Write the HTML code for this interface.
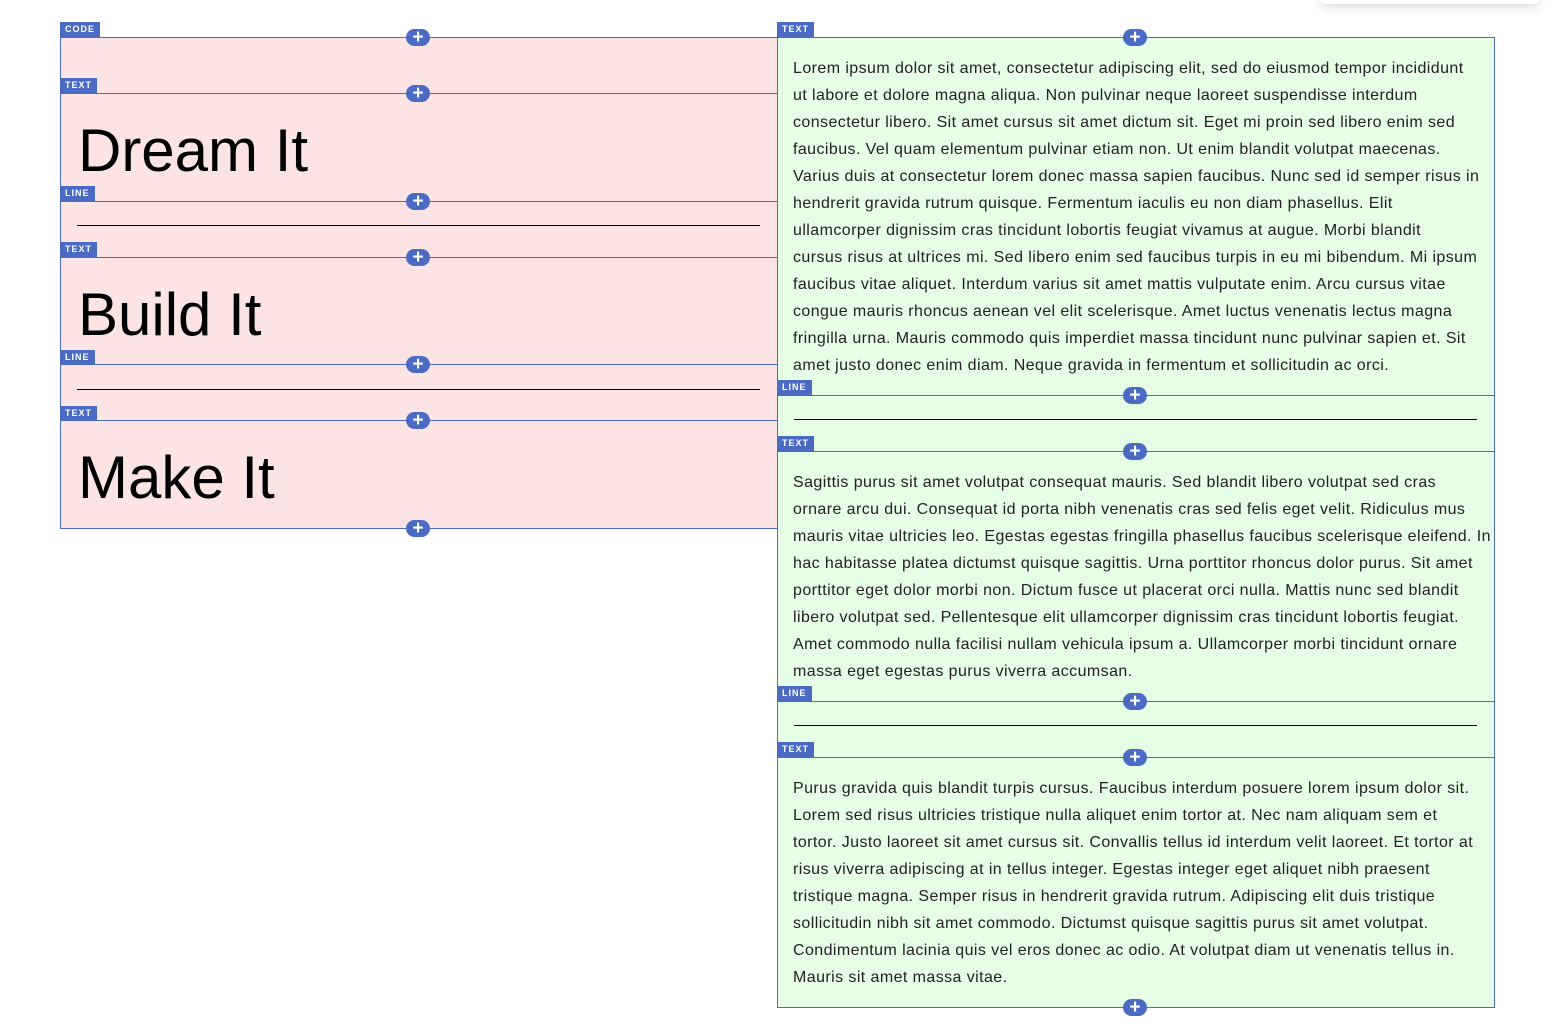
<!DOCTYPE html>
<html><head><meta charset="utf-8"><style>
*{margin:0;padding:0;box-sizing:border-box}
body{width:1552px;height:1031px;background:#fff;position:relative;overflow:hidden;font-family:"Liberation Sans",sans-serif}
.a{position:absolute}
.pink{background:#fce4e4}
.green{background:#e6fde6}
.box{position:absolute;border:1px solid #4a6ac4}
.hl{position:absolute;height:1px;background:#4a6ac4}
.tag{position:absolute;height:15px;background:#4a6ac4;color:#fff;font-size:9px;font-weight:bold;letter-spacing:1px;line-height:15px;padding:0 5px}
.plus{position:absolute;width:24px;height:17px;border-radius:9px;background:#4a6ac4;color:#fff;font-size:19px;font-weight:bold;line-height:17px;text-align:center}
.rule{position:absolute;height:1px;background:#000}
.h{position:absolute;left:78px;font-size:60px;line-height:60px;color:#000;white-space:nowrap}
.t{position:absolute;left:793px;font-size:16px;line-height:27px;color:#222;white-space:nowrap;letter-spacing:0.42px;margin-top:1px}
</style></head><body>
<div class="a" style="left:1320px;top:-10px;width:220px;height:14px;box-shadow:0 4px 10px rgba(0,0,0,0.12);background:#fff;border-radius:6px"></div>

<div class="box pink" style="left:60px;top:37px;width:718px;height:492px"></div>
<div class="box green" style="left:777px;top:37px;width:718px;height:971px"></div>

<div class="hl" style="left:60px;top:93px;width:717px"></div>
<div class="hl" style="left:60px;top:201px;width:717px"></div>
<div class="hl" style="left:60px;top:257px;width:717px"></div>
<div class="hl" style="left:60px;top:364px;width:717px"></div>
<div class="hl" style="left:60px;top:420px;width:717px"></div>
<div class="hl" style="left:777px;top:395px;width:717px"></div>
<div class="hl" style="left:777px;top:451px;width:717px"></div>
<div class="hl" style="left:777px;top:701px;width:717px"></div>
<div class="hl" style="left:777px;top:757px;width:717px"></div>

<div class="rule" style="left:77px;top:225px;width:683px"></div>
<div class="rule" style="left:77px;top:389px;width:683px"></div>
<div class="rule" style="left:794px;top:419px;width:683px"></div>
<div class="rule" style="left:794px;top:725px;width:683px"></div>

<div class="tag" style="left:60px;top:22px">CODE</div>
<div class="tag" style="left:60px;top:78px">TEXT</div>
<div class="tag" style="left:60px;top:186px">LINE</div>
<div class="tag" style="left:60px;top:242px">TEXT</div>
<div class="tag" style="left:60px;top:350px">LINE</div>
<div class="tag" style="left:60px;top:406px">TEXT</div>
<div class="tag" style="left:777px;top:22px">TEXT</div>
<div class="tag" style="left:777px;top:380px">LINE</div>
<div class="tag" style="left:777px;top:436px">TEXT</div>
<div class="tag" style="left:777px;top:686px">LINE</div>
<div class="tag" style="left:777px;top:742px">TEXT</div>

<div class="plus" style="left:406px;top:29px">+</div>
<div class="plus" style="left:406px;top:85px">+</div>
<div class="plus" style="left:406px;top:193px">+</div>
<div class="plus" style="left:406px;top:249px">+</div>
<div class="plus" style="left:406px;top:356px">+</div>
<div class="plus" style="left:406px;top:412px">+</div>
<div class="plus" style="left:406px;top:520px">+</div>
<div class="plus" style="left:1123px;top:29px">+</div>
<div class="plus" style="left:1123px;top:387px">+</div>
<div class="plus" style="left:1123px;top:443px">+</div>
<div class="plus" style="left:1123px;top:693px">+</div>
<div class="plus" style="left:1123px;top:749px">+</div>
<div class="plus" style="left:1123px;top:999px">+</div>

<div class="h" style="top:121px">Dream It</div>
<div class="h" style="top:285px">Build It</div>
<div class="h" style="top:448px">Make It</div>

<div class="t" style="top:54px">Lorem ipsum dolor sit amet, consectetur adipiscing elit, sed do eiusmod tempor incididunt</div>
<div class="t" style="top:81px">ut labore et dolore magna aliqua. Non pulvinar neque laoreet suspendisse interdum</div>
<div class="t" style="top:108px">consectetur libero. Sit amet cursus sit amet dictum sit. Eget mi proin sed libero enim sed</div>
<div class="t" style="top:135px">faucibus. Vel quam elementum pulvinar etiam non. Ut enim blandit volutpat maecenas.</div>
<div class="t" style="top:162px">Varius duis at consectetur lorem donec massa sapien faucibus. Nunc sed id semper risus in</div>
<div class="t" style="top:189px">hendrerit gravida rutrum quisque. Fermentum iaculis eu non diam phasellus. Elit</div>
<div class="t" style="top:216px">ullamcorper dignissim cras tincidunt lobortis feugiat vivamus at augue. Morbi blandit</div>
<div class="t" style="top:243px">cursus risus at ultrices mi. Sed libero enim sed faucibus turpis in eu mi bibendum. Mi ipsum</div>
<div class="t" style="top:270px">faucibus vitae aliquet. Interdum varius sit amet mattis vulputate enim. Arcu cursus vitae</div>
<div class="t" style="top:297px">congue mauris rhoncus aenean vel elit scelerisque. Amet luctus venenatis lectus magna</div>
<div class="t" style="top:324px">fringilla urna. Mauris commodo quis imperdiet massa tincidunt nunc pulvinar sapien et. Sit</div>
<div class="t" style="top:351px">amet justo donec enim diam. Neque gravida in fermentum et sollicitudin ac orci.</div>

<div class="t" style="top:468px">Sagittis purus sit amet volutpat consequat mauris. Sed blandit libero volutpat sed cras</div>
<div class="t" style="top:495px">ornare arcu dui. Consequat id porta nibh venenatis cras sed felis eget velit. Ridiculus mus</div>
<div class="t" style="top:522px">mauris vitae ultricies leo. Egestas egestas fringilla phasellus faucibus scelerisque eleifend. In</div>
<div class="t" style="top:549px">hac habitasse platea dictumst quisque sagittis. Urna porttitor rhoncus dolor purus. Sit amet</div>
<div class="t" style="top:576px">porttitor eget dolor morbi non. Dictum fusce ut placerat orci nulla. Mattis nunc sed blandit</div>
<div class="t" style="top:603px">libero volutpat sed. Pellentesque elit ullamcorper dignissim cras tincidunt lobortis feugiat.</div>
<div class="t" style="top:630px">Amet commodo nulla facilisi nullam vehicula ipsum a. Ullamcorper morbi tincidunt ornare</div>
<div class="t" style="top:657px">massa eget egestas purus viverra accumsan.</div>

<div class="t" style="top:774px">Purus gravida quis blandit turpis cursus. Faucibus interdum posuere lorem ipsum dolor sit.</div>
<div class="t" style="top:801px">Lorem sed risus ultricies tristique nulla aliquet enim tortor at. Nec nam aliquam sem et</div>
<div class="t" style="top:828px">tortor. Justo laoreet sit amet cursus sit. Convallis tellus id interdum velit laoreet. Et tortor at</div>
<div class="t" style="top:855px">risus viverra adipiscing at in tellus integer. Egestas integer eget aliquet nibh praesent</div>
<div class="t" style="top:882px">tristique magna. Semper risus in hendrerit gravida rutrum. Adipiscing elit duis tristique</div>
<div class="t" style="top:909px">sollicitudin nibh sit amet commodo. Dictumst quisque sagittis purus sit amet volutpat.</div>
<div class="t" style="top:936px">Condimentum lacinia quis vel eros donec ac odio. At volutpat diam ut venenatis tellus in.</div>
<div class="t" style="top:963px">Mauris sit amet massa vitae.</div>
</body></html>
